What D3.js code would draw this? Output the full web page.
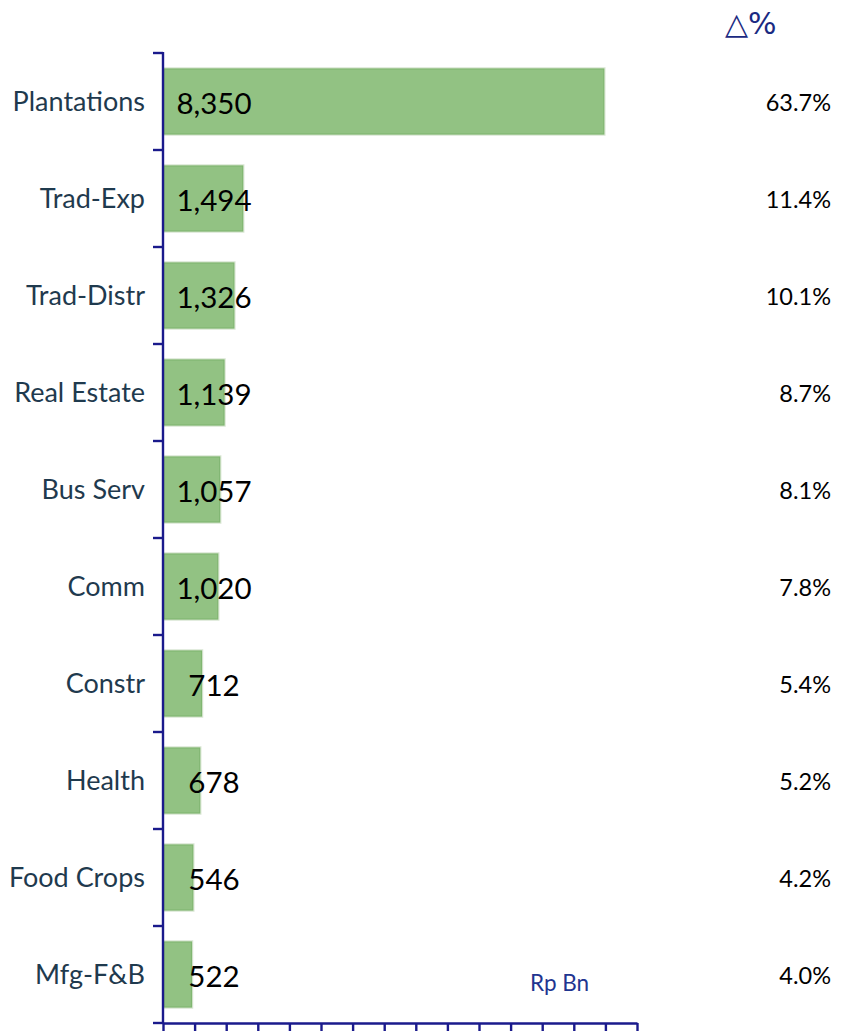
<!DOCTYPE html>
<html>
<head>
<meta charset="utf-8">
<script src="https://cdn.jsdelivr.net/npm/d3@7"></script>
<style>
  html, body { margin: 0; padding: 0; background: #fff; }
  svg { display: block; }
</style>
</head>
<body>
<svg id="chart" width="844" height="1031"></svg>
<script>
// Sector values (Rp Bn) and share of total
const categories = ["Plantations", "Trad-Exp", "Trad-Distr", "Real Estate", "Bus Serv",
                    "Comm", "Constr", "Health", "Food Crops", "Mfg-F&B"];
const values = [8350, 1494, 1326, 1139, 1057, 1020, 712, 678, 546, 522];
const shares = [63.7, 11.4, 10.1, 8.7, 8.1, 7.8, 5.4, 5.2, 4.2, 4.0];
const xTicks = d3.range(0, 9001, 600);

const axisColor = "#1a1a8c";
const textFont = "Lato, 'Open Sans', sans-serif";
const svg = d3.select("#chart");

const x = d3.scaleLinear().domain([0, 9000]).range([163, 637]);
const y = d3.scaleBand().domain(categories).range([53, 1023])
  .paddingInner(0.33).paddingOuter(0.165);

const fmt = d3.format(",");
const rows = categories.map((c, i) => ({ cat: c, value: values[i], share: shares[i] }));

// Bars, with a faint light outline around the darker green border
const bars = svg.append("g");
bars.selectAll("rect.halo").data(rows).join("rect")
  .attr("class", "halo")
  .attr("x", x(0) + 1)
  .attr("y", d => y(d.cat) - 0.5)
  .attr("width", d => x(d.value) - x(0) + 0.5)
  .attr("height", y.bandwidth() + 1)
  .attr("fill", "none")
  .attr("stroke", "#d9e6d3")
  .attr("stroke-width", 2.5);
bars.selectAll("rect.bar").data(rows).join("rect")
  .attr("class", "bar")
  .attr("x", x(0) + 1)
  .attr("y", d => y(d.cat))
  .attr("width", d => x(d.value) - x(0))
  .attr("height", y.bandwidth())
  .attr("fill", "#92c283")
  .attr("stroke", "#80b671")
  .attr("stroke-width", 1.2);

// Bottom axis
const xAxis = svg.append("g")
  .attr("transform", "translate(0,1023)")
  .call(d3.axisBottom(x).tickValues(xTicks).tickSize(10).tickSizeOuter(0).tickFormat(""));
xAxis.selectAll("path, line").attr("stroke", axisColor).attr("stroke-width", 2.4);

// Left axis with ticks at category boundaries
const step = y.step();
const boundaries = categories.map(c => y(c) - y.paddingInner() * step / 2)
  .concat([y(categories[categories.length - 1]) + y.bandwidth() + y.paddingInner() * step / 2]);
const yAxis = svg.append("g");
yAxis.append("line")
  .attr("x1", x(0)).attr("x2", x(0))
  .attr("y1", boundaries[0] - 1).attr("y2", boundaries[boundaries.length - 1] + 1)
  .attr("stroke", axisColor).attr("stroke-width", 2.4);
yAxis.selectAll("line.tick").data(boundaries).join("line")
  .attr("class", "tick")
  .attr("x1", x(0) - 10).attr("x2", x(0))
  .attr("y1", d => d).attr("y2", d => d)
  .attr("stroke", axisColor).attr("stroke-width", 2.4);

// Category labels
svg.append("g").selectAll("text").data(rows).join("text")
  .attr("x", 145)
  .attr("y", d => y(d.cat) + y.bandwidth() / 2 + 9)
  .attr("text-anchor", "end")
  .attr("font-family", textFont)
  .attr("font-size", 27)
  .attr("fill", "#1f3a4e")
  .text(d => d.cat);

// Value labels
svg.append("g").selectAll("text").data(rows).join("text")
  .attr("x", 214)
  .attr("y", d => y(d.cat) + y.bandwidth() / 2 + 12)
  .attr("text-anchor", "middle")
  .attr("font-family", textFont)
  .attr("font-size", 29.5)
  .attr("fill", "#000")
  .text(d => fmt(d.value));

// Share labels
svg.append("g").selectAll("text").data(rows).join("text")
  .attr("x", 831)
  .attr("y", d => y(d.cat) + y.bandwidth() / 2 + 9)
  .attr("text-anchor", "end")
  .attr("font-family", textFont)
  .attr("font-size", 23.5)
  .attr("fill", "#000")
  .text(d => d.share.toFixed(1) + "%");

// Header and unit
svg.append("text")
  .attr("x", 725).attr("y", 34)
  .attr("font-family", "'DejaVu Sans', sans-serif")
  .attr("font-size", 30)
  .attr("fill", "#1a2a82")
  .text("△%");

svg.append("text")
  .attr("x", 530).attr("y", 991)
  .attr("font-family", textFont)
  .attr("font-size", 22.5)
  .attr("fill", "#1f3590")
  .text("Rp Bn");
</script>
</body>
</html>
